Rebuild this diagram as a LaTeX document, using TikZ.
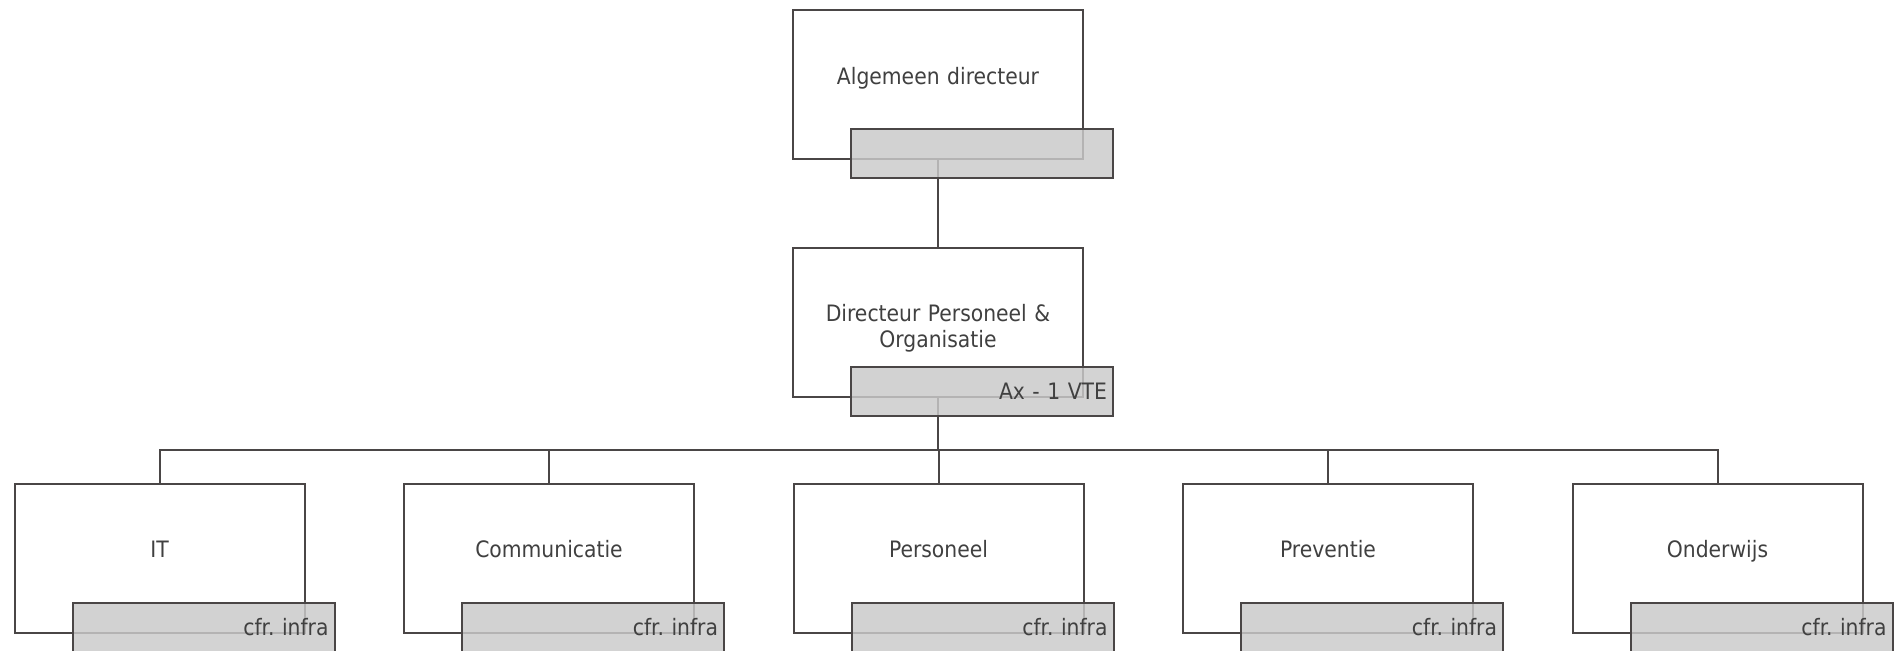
\documentclass[tikz,border=0pt]{standalone}
\usepackage{fontspec}
\setmainfont{DejaVu Sans Condensed}
\usetikzlibrary{positioning}
\definecolor{edge}{HTML}{4A4646}
\definecolor{ink}{HTML}{404040}
\definecolor{tagfill}{HTML}{CACACA}
\begin{document}
\begin{tikzpicture}[x=0.5pt,y=-0.5pt,
    font=\fontsize{11.3}{13}\selectfont,
    orgbox/.style={draw=edge,line width=1pt,fill=white,minimum width=145pt,minimum height=74.5pt,
      inner sep=0pt,text width=135pt,align=center,text depth=9pt,text=ink},
    orgtag/.style={draw=edge,line width=1pt,fill=tagfill,fill opacity=.83,text opacity=1,
      minimum height=24.5pt,inner xsep=3pt,inner ysep=0pt,text width=125pt,align=right,
      text=ink,anchor=north west},
    conn/.style={draw=edge,line width=1pt}]
    \useasboundingbox (0,0) rectangle (1904,650);
    \node[orgbox] (boss) at (938,84.5) {Algemeen directeur};
    \node[orgbox] (dpo) at (938,322) {Directeur Personeel \&\\Organisatie};
    \foreach \n/\t [count=\i from 0] in {it/IT,com/Communicatie,pers/Personeel,prev/Preventie,ond/Onderwijs}
      \node[orgbox] (\n) at (159.5+389.5*\i,558) {\t};
    \coordinate (bus) at ([yshift=-26pt]dpo.south);
    \draw[conn] (boss) -- (dpo);
    \foreach \n in {it,com,pers,prev,ond}
      \draw[conn] (dpo.south) -- (bus) -| (\n.north);
    \node[orgtag] (boss-tag) at ([shift={(58,-32)}]boss.south west) {};
    \node[orgtag] (dpo-tag) at ([shift={(58,-32)}]dpo.south west) {Ax - 1 VTE};
    \foreach \n in {it,com,pers,prev,ond}
      \node[orgtag] (\n-tag) at ([shift={(58,-32)}]\n.south west) {cfr.\ infra};
\end{tikzpicture}
\end{document}
